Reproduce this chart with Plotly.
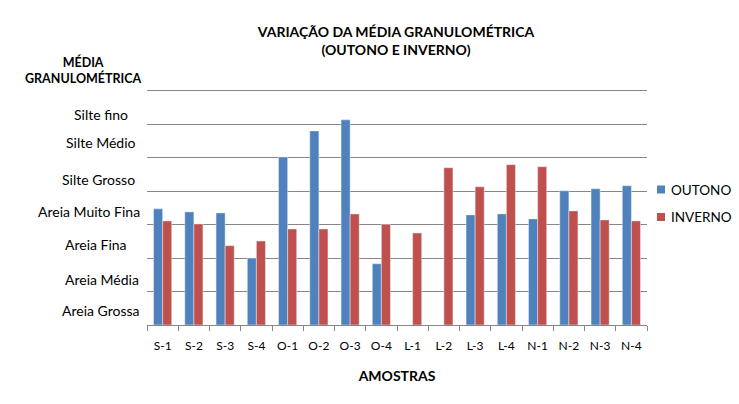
import plotly.graph_objects as go

categories = ["S-1", "S-2", "S-3", "S-4", "O-1", "O-2", "O-3", "O-4",
              "L-1", "L-2", "L-3", "L-4", "N-1", "N-2", "N-3", "N-4"]
outono = [3.47, 3.38, 3.35, 2.0, 5.02, 5.80, 6.13, 1.83,
          None, None, 3.29, 3.32, 3.17, 4.01, 4.07, 4.16]
inverno = [3.11, 3.02, 2.37, 2.51, 2.87, 2.87, 3.32, 3.01,
           2.75, 4.70, 4.13, 4.79, 4.73, 3.41, 3.14, 3.11]
y_labels = ["Areia Grossa", "Areia Média", "Areia Fina", "Areia Muito Fina",
            "Silte Grosso", "Silte Médio", "Silte fino"]
y_label_pos = [0.42, 1.37, 2.4, 3.4, 4.35, 5.45, 6.3]
y_label_x = [101, 101.5, 96, 89, 98.5, 100.5, 100.5]
series_names = ["OUTONO", "INVERNO"]
series_colors = ["#4F81BD", "#C0504D"]

FONT = "Lato"
W, H = 739, 404
L, R, T, B = 147, 92, 74, 79
PW, PH = W - L - R, H - T - B


def px_x(p):
    return (p - L) / PW


def px_y(p):
    return (H - B - p) / PH


fig = go.Figure()
fig.add_trace(go.Bar(x=categories, y=outono, name=series_names[0],
                     marker_color=series_colors[0], showlegend=False))
fig.add_trace(go.Bar(x=categories, y=inverno, name=series_names[1],
                     marker_color=series_colors[1], showlegend=False))

for lab, yv, xp in zip(y_labels, y_label_pos, y_label_x):
    fig.add_annotation(text=lab, x=px_x(xp), xref="paper", y=yv, yref="y",
                       showarrow=False, xanchor="center", yanchor="middle",
                       font=dict(family=FONT, size=14, color="black"))

fig.add_annotation(text="<b>MÉDIA<br>GRANULOMÉTRICA</b>", x=px_x(83), xref="paper",
                   y=px_y(70), yref="paper", xanchor="center", yanchor="middle",
                   showarrow=False, align="center",
                   font=dict(family=FONT, size=12.5, color="black"))

# legend drawn manually
for i, (nm, col) in enumerate(zip(series_names, series_colors)):
    cy = 189.5 + i * 27.5
    fig.add_shape(type="rect", xref="paper", yref="paper",
                  x0=px_x(657), x1=px_x(665), y0=px_y(cy - 4), y1=px_y(cy + 4),
                  fillcolor=col, line=dict(width=0))
    fig.add_annotation(text=nm, x=px_x(669), xref="paper", y=px_y(cy), yref="paper",
                       xanchor="left", yanchor="middle", showarrow=False,
                       font=dict(family=FONT, size=13.5, color="black"))

fig.update_layout(
    width=W, height=H,
    margin=dict(l=L, r=R, t=T, b=B, autoexpand=False),
    paper_bgcolor="white", plot_bgcolor="white",
    barmode="group", bargap=0.42, bargroupgap=0,
    font=dict(family=FONT, color="black"),
    title=dict(text="<b>VARIAÇÃO DA MÉDIA GRANULOMÉTRICA<br>(OUTONO E INVERNO)</b>",
               x=396 / W, xanchor="center", y=1 - 37 / H, yanchor="middle",
               font=dict(family=FONT, size=14, color="black")),
    showlegend=False,
)
fig.update_xaxes(showline=True, linecolor="#868686", ticks="outside", tickson="boundaries",
                 ticklen=5, tickcolor="#868686", tickangle=0, ticklabelstandoff=10,
                 tickfont=dict(family=FONT, size=12),
                 title=dict(text="<b>AMOSTRAS</b>", font=dict(family=FONT, size=14), standoff=18))
fig.update_yaxes(range=[0, 7.5], tickvals=[1, 2, 3, 4, 5, 6, 7], showgrid=True,
                 gridcolor="#868686", gridwidth=1,
                 showticklabels=False, zeroline=False, showline=False)

fig.write_html("out.html")
